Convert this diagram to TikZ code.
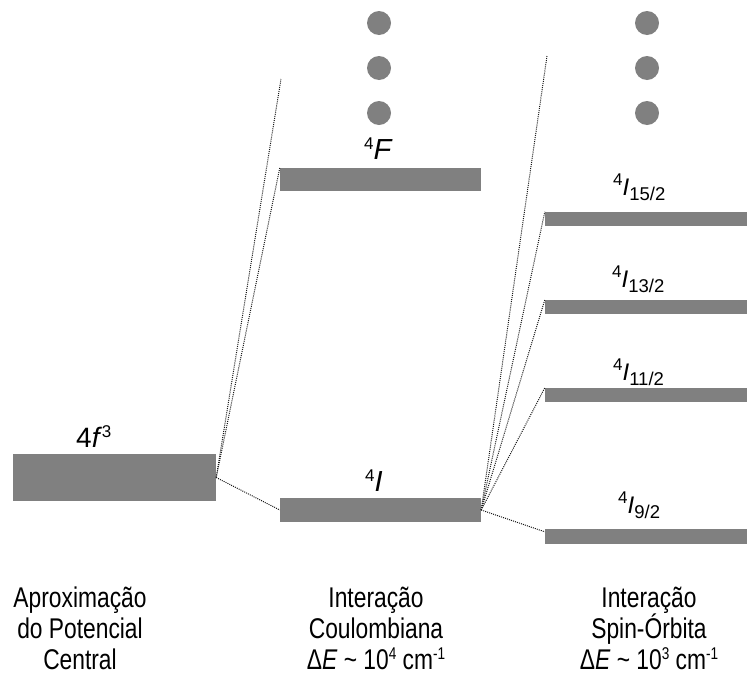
\documentclass[tikz,border=0pt]{standalone}
\usepackage{fontspec}
\setmainfont{Liberation Sans}
\newfontfamily\narrowfont[FakeStretch=0.8]{Liberation Sans}
\usetikzlibrary{calc}
% small raised / lowered indices
\newcommand\upidx[1]{\raisebox{10pt}{\fontsize{17}{17}\selectfont #1}}
\newcommand\dnidx[1]{\raisebox{-5pt}{\fontsize{18.5}{18.5}\selectfont #1}}
\begin{document}
\begin{tikzpicture}[x=1pt,y=-1pt,
  level/.style={fill=levelgray, draw=none, inner sep=0pt, rectangle},
  wide/.style={level, minimum width=203pt},
  thin/.style={level, minimum width=202pt, minimum height=14pt},
  conn/.style={draw=black!90, line width=1pt, dash pattern=on 1pt off 1.1pt},
  blob/.style={circle, fill=levelgray, minimum size=24pt, inner sep=0pt},
  lab/.style={anchor=base west, inner sep=0pt},
  caption/.style={anchor=base, inner sep=0pt, align=center, font=\narrowfont\fontsize{28.5}{31}\selectfont}]
\definecolor{levelgray}{HTML}{808080}
\useasboundingbox (0,0) rectangle (749,675);

% central-field configuration
\node[wide, minimum height=47pt] (cf) at (114.5,477.5) {};
\node[lab, font=\fontsize{28}{28}\selectfont] (cfl) at (76,447) {4\textit{f}\upidx{3}};

% Coulomb terms
\node[level, minimum width=201pt, minimum height=23pt] (tF) at (380.5,179.5) {};
\node[level, minimum width=201pt, minimum height=24pt] (tI) at (380.5,510) {};
\node[lab, font=\fontsize{29}{29}\selectfont] (tFl) at (364,159) {\upidx{4}\textit{F}};
\node[lab, font=\fontsize{29}{29}\selectfont] (tIl) at (365,491) {\upidx{4}\textit{I}};

% spin-orbit levels
\node[thin] (j15) at (646,219) {};
\node[thin] (j13) at (646,307) {};
\node[thin] (j11) at (646,395) {};
\node[thin, minimum height=15pt] (j9) at (646,536.5) {};
\node[lab, font=\fontsize{24}{24}\selectfont] (j15l) at (613,195) {\upidx{4}\textit{I}\dnidx{15/2}};
\node[lab, font=\fontsize{24}{24}\selectfont] (j13l) at (612,287) {\upidx{4}\textit{I}\dnidx{13/2}};
\node[lab, font=\fontsize{24}{24}\selectfont] (j11l) at (613,380) {\upidx{4}\textit{I}\dnidx{11/2}};
\node[lab, font=\fontsize{24}{24}\selectfont] (j9l) at (618,513) {\upidx{4}\textit{I}\dnidx{9/2}};

% continuation dots
\foreach \k/\yy in {1/23,2/68,3/113}{
  \node[blob] (dc\k) at (379,\yy) {};
  \node[blob] (dr\k) at (647,\yy) {};
}

% correlation lines
\coordinate (topc) at (281,79);
\coordinate (topr) at (547,56);
\draw[conn] (cf.east) -- (topc);
\draw[conn] (cf.east) -- (tF.north west);
\draw[conn] (cf.east) -- (tI.west);
\draw[conn] (tI.east) -- (topr);
\draw[conn] (tI.east) -- (j15.north west);
\draw[conn] (tI.east) -- (j13.north west);
\draw[conn] (tI.east) -- (j11.north west);
\draw[conn] (tI.east) -- ($(j9.north west)+(0,3)$);

% column captions (anchored at the last baseline)
\node[caption] (c1) at (80,669) {Aproximação\\do Potencial\\Central};
\node[caption] (c2) at (376,669) {Interação\\Coulombiana\\Δ\textit{E} \textasciitilde{} 10\upidx{4} cm\upidx{-1}};
\node[caption] (c3) at (649,669) {Interação\\Spin-Órbita\\Δ\textit{E} \textasciitilde{} 10\upidx{3} cm\upidx{-1}};
\end{tikzpicture}
\end{document}
